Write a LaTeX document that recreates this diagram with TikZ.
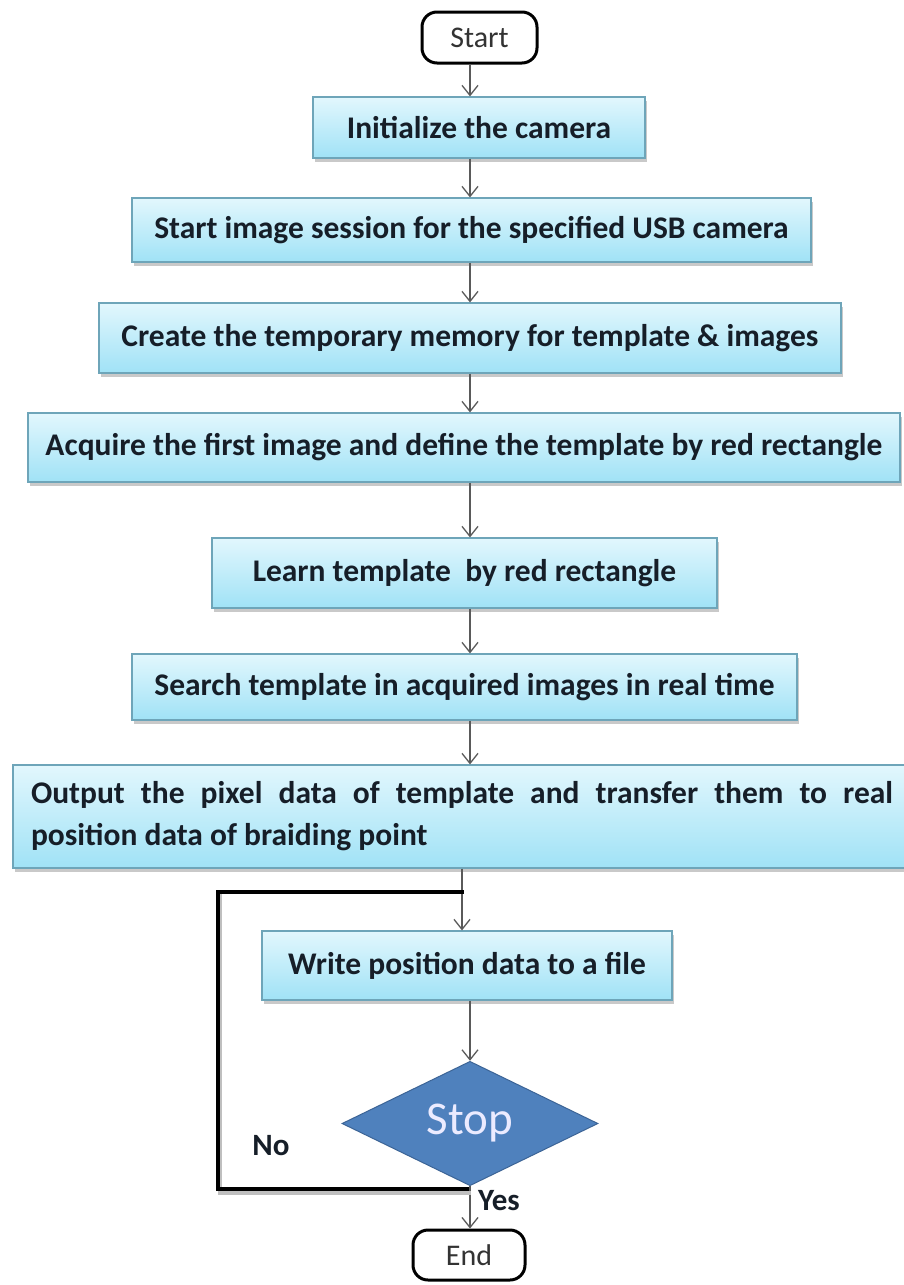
\documentclass[tikz,border=0pt]{standalone}
\usepackage{fontspec}
\setmainfont{Carlito}
\usetikzlibrary{shapes.geometric,arrows.meta,shadows}
\definecolor{boxtop}{RGB}{226,247,253}
\definecolor{boxbot}{RGB}{160,226,246}
\definecolor{boxedge}{RGB}{110,165,185}
\definecolor{txt}{RGB}{22,30,40}
\definecolor{dia}{RGB}{79,129,189}
\definecolor{diaedge}{RGB}{60,100,150}
\definecolor{arr}{RGB}{90,90,90}
\tikzset{
  procbox/.style={rectangle, draw=boxedge, line width=1.2pt, top color=boxtop, bottom color=boxbot,
    inner sep=0pt, font=\fontsize{31.5}{42}\selectfont\bfseries, text=txt, align=center,
    drop shadow={shadow xshift=2pt, shadow yshift=-4pt, opacity=0.35, fill=black!60}},
  term/.style={rectangle, rounded corners=15pt, draw=black, line width=3pt, fill=white,
    inner sep=0pt, font=\fontsize{30}{34}\selectfont, text=black!80},
  decide/.style={diamond, draw=diaedge, line width=1pt, fill=dia, inner sep=0pt,
    font=\fontsize{47}{52}\selectfont, text=white!92!blue},
  flow/.style={draw=arr, line width=1.5pt, -{Straight Barb[length=10pt,width=16pt,line width=1.3pt]}},
  loopline/.style={draw=black, line width=4pt, line cap=rect},
  lbl/.style={font=\fontsize{31}{36}\selectfont\bfseries, text=txt, inner sep=0pt}
}
\begin{document}
\begin{tikzpicture}[x=1pt,y=-1pt]
\useasboundingbox (0,0) rectangle (904,1285);
\fill[white] (0,0) rectangle (904,1285);

\node[term, minimum width=115pt, minimum height=51pt] (start) at (479.5,37.5) {Start};
\node[procbox, minimum width=332pt, minimum height=61pt] (b1) at (479,127.5) {Initialize the camera};
\node[procbox, minimum width=679pt, minimum height=64pt] (b2) at (471.5,230) {Start image session for the specified USB camera};
\node[procbox, minimum width=742pt, minimum height=70pt] (b3) at (470,338) {Create the temporary memory for template \& images};
\node[procbox, minimum width=872pt, minimum height=69pt] (b4) at (464,447.5) {Acquire the first image and define the template by red rectangle};
\node[procbox, minimum width=505pt, minimum height=70pt] (b5) at (464.5,573) {Learn template\ \ by red rectangle};
\node[procbox, minimum width=665pt, minimum height=66pt] (b6) at (464.5,687) {Search template in acquired images in real time};
\node[procbox, minimum width=898pt, minimum height=103pt, align=justify, text width=862pt] (b7) at (462,816.5)
  {Output the pixel data of template and transfer them to real\linebreak position data of braiding point};
\node[procbox, minimum width=410pt, minimum height=69pt] (b8) at (467,965.5) {Write position data to a file};
\node[decide, minimum width=256pt, minimum height=107pt] (stop) at (470,1123.5) {Stop};
\node[term, minimum width=112pt, minimum height=50pt] (end) at (469,1255) {End};

\coordinate (ax) at (470,0);
\coordinate (ax2) at (462,0);
\draw[flow] (start.south -| ax) -- (b1.north -| ax);
\draw[flow] (b1.south -| ax) -- (b2.north -| ax);
\draw[flow] (b2.south -| ax) -- (b3.north -| ax);
\draw[flow] (b3.south -| ax) -- (b4.north -| ax);
\draw[flow] (b4.south -| ax) -- (b5.north -| ax);
\draw[flow] (b5.south -| ax) -- (b6.north -| ax);
\draw[flow] (b6.south -| ax) -- (b7.north -| ax);
\draw[flow] (b7.south -| ax2) -- (b8.north -| ax2);
\draw[flow] (b8.south -| ax) -- (stop.north);
\draw[flow] (stop.south) -- (end.north -| stop.south);

\coordinate (j1) at (462,892);
\coordinate (j2) at (467,1189);
\coordinate (c1) at (218,1189);
\coordinate (c2) at (218,892);
\draw[loopline, black!25, line width=4pt] ([shift={(2,4)}]j2) -- ([shift={(2,4)}]c1) -- ([shift={(2,4)}]c2);
\draw[loopline] (j2) -- (c1) -- (c2) -- (j1);

\node[lbl] (no) at (271,1146) {No};
\node[lbl] (yes) at (499,1201) {Yes};
\end{tikzpicture}
\end{document}
